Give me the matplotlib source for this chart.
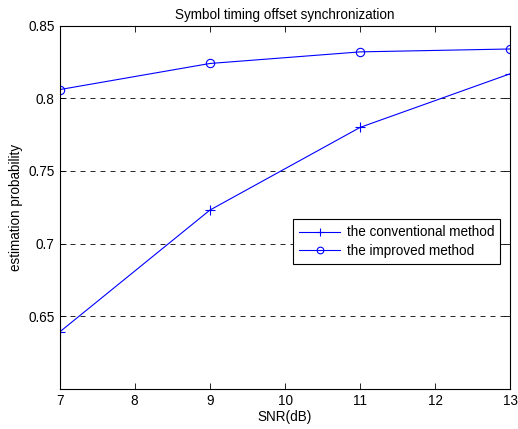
import matplotlib
matplotlib.use("Agg")
import matplotlib.pyplot as plt

snr = [7, 9, 11, 13]
conventional = [0.639, 0.723, 0.780, 0.817]
improved = [0.806, 0.824, 0.832, 0.834]
yticks = [0.65, 0.7, 0.75, 0.8, 0.85]
xticks = [7, 8, 9, 10, 11, 12, 13]

plt.rcParams['font.family'] = ['Liberation Sans', 'DejaVu Sans']
plt.rcParams['font.size'] = 9.75

fig = plt.figure(figsize=(5.18, 4.29), dpi=100)
ax = fig.add_axes([0.1149, 0.0939, 0.8706, 0.8461])

ax.plot(snr, conventional, color='#0000ff', lw=0.8, marker='+', ms=7.5, mew=0.8,
        label='the conventional method')
ax.plot(snr, improved, color='#0000ff', lw=0.8, marker='o', ms=6, mew=0.8,
        mfc='none', label='the improved method')

ax.set_xlim(7, 13)
ax.set_ylim(0.6, 0.85)
ax.set_xticks(xticks)
ax.set_xticklabels([str(v) for v in xticks])
ax.set_yticks(yticks)
ax.set_yticklabels(['0.65', '0.7', '0.75', '0.8', '0.85'])
ax.tick_params(direction='in', top=True, right=True, length=4, width=0.6, colors='black')
ax.yaxis.grid(True, linestyle=(0, (6, 6)), color='black', lw=0.6)
for s in ax.spines.values():
    s.set_linewidth(0.8)

ax.set_title('Symbol timing offset synchronization', fontsize=9.75, pad=5)
ax.set_xlabel('SNR(dB)', labelpad=2)
ax.set_ylabel('estimation probability', labelpad=4)

leg = ax.legend(loc='upper left', bbox_to_anchor=(0.518, 0.467), fancybox=False,
                edgecolor='black', framealpha=1, borderpad=0.45, handlelength=3,
                labelspacing=0.35, handletextpad=0.5, borderaxespad=0, markerscale=0.8)
leg.get_frame().set_linewidth(0.8)

fig.savefig('out.png', dpi=100)
